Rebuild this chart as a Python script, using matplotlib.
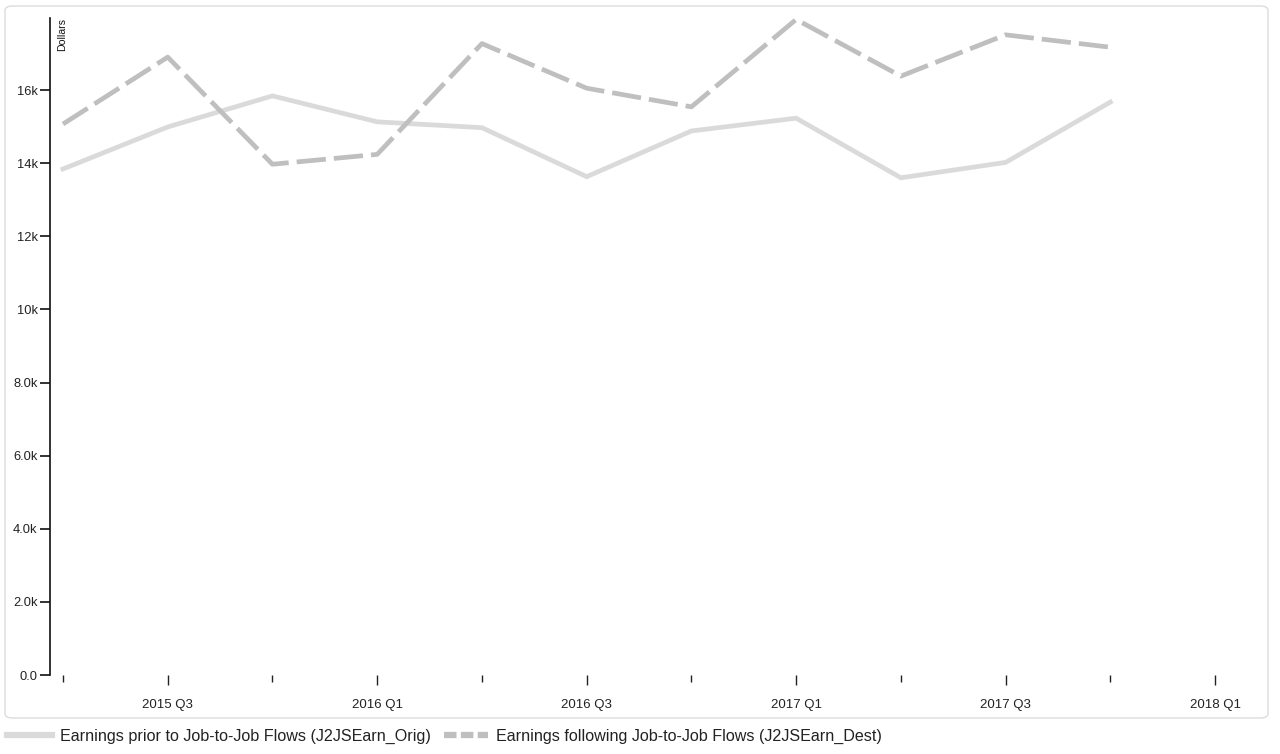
import matplotlib
matplotlib.use("Agg")
import matplotlib.pyplot as plt
from matplotlib.patches import FancyBboxPatch
from matplotlib.lines import Line2D
from matplotlib.ticker import FixedLocator, FuncFormatter

plt.rcParams['font.family'] = ['Liberation Sans', 'DejaVu Sans']

quarters = ["2015 Q2", "2015 Q3", "2015 Q4", "2016 Q1", "2016 Q2", "2016 Q3",
            "2016 Q4", "2017 Q1", "2017 Q2", "2017 Q3", "2017 Q4", "2018 Q1"]
earn_orig = [13840, 14990, 15840, 15130, 14970, 13630, 14880, 15230, 13600, 14020, 15670]
earn_dest = [15070, 16900, 13970, 14240, 17270, 16050, 15540, 17930, 16380, 17510, 17170]
yticks = [0, 2000, 4000, 6000, 8000, 10000, 12000, 14000, 16000]
ytick_labels = ["0.0", "2.0k", "4.0k", "6.0k", "8.0k", "10k", "12k", "14k", "16k"]

W, H = 1280, 754
fig = plt.figure(figsize=(W / 100, H / 100), dpi=100)

# panel border
panel = FancyBboxPatch((5 / W, 1 - 718 / H), 1263 / W, 712 / H,
                       boxstyle="round,pad=0,rounding_size=0.006",
                       transform=fig.transFigure, facecolor="none",
                       edgecolor="#dcdcdc", linewidth=1.0, zorder=-5)
fig.patches.append(panel)

ax_left, ax_right, ax_top, ax_bot = 50, 1240, 18, 675
ax = fig.add_axes([ax_left / W, 1 - ax_bot / H, (ax_right - ax_left) / W, (ax_bot - ax_top) / H])
ax.set_facecolor("none")

xs = list(range(len(earn_orig)))
ax.plot(xs, earn_orig, color="#dadada", linewidth=3.4, solid_joinstyle="miter", zorder=3)
ax.plot(xs, earn_dest, color="#bfbfbf", linewidth=3.4, linestyle=(0, (6.2, 1.7)),
        dash_capstyle="butt", zorder=3)

ax.set_xlim(-0.124, 11.238)
ax.set_ylim(0, 17970)

for s in ["top", "right", "bottom"]:
    ax.spines[s].set_visible(False)
ax.spines["left"].set_linewidth(1.2)
ax.spines["left"].set_color("#111111")

ax.set_yticks(yticks)
ax.set_yticklabels(ytick_labels, fontsize=9.3, color="#222222")
ax.tick_params(axis="y", length=7, width=1.2, color="#111111", pad=2)

major = [i for i in range(len(quarters)) if i % 2 == 1]
minor = [i for i in range(len(quarters)) if i % 2 == 0]
ax.xaxis.set_major_locator(FixedLocator(major))
ax.xaxis.set_minor_locator(FixedLocator(minor))
ax.xaxis.set_major_formatter(FuncFormatter(lambda v, p: quarters[int(round(v))]))
ax.tick_params(axis="x", which="major", length=7, width=1.0, color="#222222",
               labelsize=9.5, labelcolor="#222222", pad=10)
ax.tick_params(axis="x", which="minor", length=5, width=1.0, color="#222222")

ax.text(0.006, 1.0, "Dollars", transform=ax.transAxes, rotation=90,
        fontsize=7.6, ha="left", va="top", color="#111111")

handles = [
    Line2D([], [], color="#dadada", linewidth=4.5),
    Line2D([], [], color="#bfbfbf", linewidth=4.5, linestyle=(0, (2.0, 0.7))),
]
labels = ["Earnings prior to Job-to-Job Flows (J2JSEarn_Orig)",
          "Earnings following Job-to-Job Flows (J2JSEarn_Dest)"]
fig.legend(handles, labels, loc="center left", bbox_to_anchor=(-0.0055, 1 - 736 / H),
           ncol=2, frameon=False, fontsize=11.6, handlelength=2.75, handletextpad=0.5,
           columnspacing=0.8, labelcolor="#222222")

fig.savefig("out.png", dpi=100)
